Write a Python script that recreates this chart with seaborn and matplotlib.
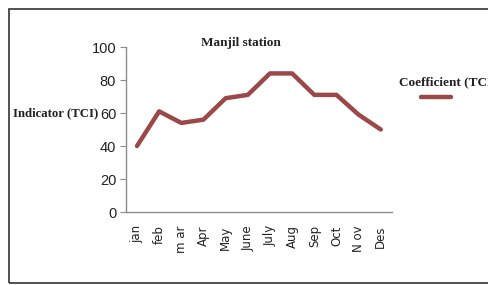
import numpy as np
import pandas as pd
import seaborn as sns
import matplotlib.pyplot as plt
from matplotlib.lines import Line2D
from matplotlib.patches import Rectangle

months = ['jan', 'feb', 'm ar', 'Apr', 'May', 'June', 'July', 'Aug', 'Sep', 'Oct', 'N ov', 'Des']
tci = [40, 61, 54, 56, 69, 71, 84, 84, 71, 71, 59, 50]
yticks = [0, 20, 40, 60, 80, 100]

line_color = '#9a4848'
axis_color = '#8c8c8c'

sns.set_style('white')
plt.rcParams['font.family'] = ['Liberation Sans', 'DejaVu Sans']

df = pd.DataFrame({'month': months, 'tci': tci})

fig = plt.figure(figsize=(4.88, 2.85), dpi=100)
ax = fig.add_axes([0.258, 0.256, 0.545, 0.579])

sns.lineplot(data=df, x='month', y='tci', sort=False, color=line_color,
             linewidth=3.2, ax=ax)

ax.set_xlim(-0.5, len(months) - 0.5)
ax.set_ylim(0, 100)
ax.set_yticks(yticks)
ax.set_yticklabels([str(v) for v in yticks], fontsize=10.5, color='#222222')
ax.set_xticks(range(len(months)))
ax.set_xticklabels(months, rotation=90, fontsize=8.5, color='#222222',
                   family=['DejaVu Sans'])
ax.set_xlabel('')
ax.set_ylabel('')

for s in ['top', 'right']:
    ax.spines[s].set_visible(False)
for s in ['left', 'bottom']:
    ax.spines[s].set_color(axis_color)
    ax.spines[s].set_linewidth(1.0)
ax.tick_params(axis='y', which='both', left=True, length=4, color=axis_color, pad=3)
ax.tick_params(axis='x', which='both', bottom=False, pad=6)

serif = ['Liberation Serif', 'DejaVu Serif']
fig.text(0.493, 0.849, 'Manjil station', fontsize=9.5, fontweight='bold',
         family=serif, ha='center', va='center', color='#222222')
fig.text(0.026, 0.603, 'Indicator (TCI)', fontsize=9.2, fontweight='bold',
         family=serif, ha='left', va='center', color='#222222')
fig.text(0.818, 0.71, 'Coefficient (TCI)', fontsize=9.5, fontweight='bold',
         family=serif, ha='left', va='center', color='#222222')
fig.add_artist(Line2D([0.862, 0.925], [0.66, 0.66], color=line_color,
                      linewidth=3.2, transform=fig.transFigure))

# outer frame of the picture
fig.add_artist(Rectangle((0.018, 0.008), 1.2, 0.962, fill=False,
                         edgecolor='#333333', linewidth=1.2,
                         transform=fig.transFigure))

fig.savefig('out.png', dpi=100)
